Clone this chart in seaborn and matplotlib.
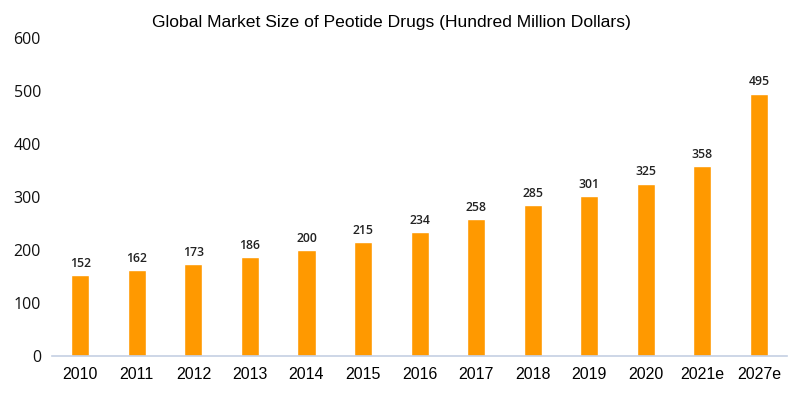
import matplotlib
matplotlib.use("Agg")
import matplotlib.pyplot as plt
import seaborn as sns
import pandas as pd

years = ["2010", "2011", "2012", "2013", "2014", "2015", "2016",
         "2017", "2018", "2019", "2020", "2021e", "2027e"]
market_size = [152, 162, 173, 186, 200, 215, 234, 258, 285, 301, 325, 358, 495]
y_ticks = [0, 100, 200, 300, 400, 500, 600]

sns.set_style("white")

df = pd.DataFrame({"year": years, "size": market_size})

fig = plt.figure(figsize=(8, 3.98), dpi=100)
ax = fig.add_axes([0.065, 0.1055, 0.919, 0.799])

sns.barplot(data=df, x="year", y="size", color="#FF9900", saturation=1,
            width=0.32, ax=ax)

# value labels above bars
for i, v in enumerate(market_size):
    ax.text(i, v + 10, str(v), ha="center", va="bottom", fontsize=8.8,
            fontweight="semibold", color="#222222", family="Open Sans")

ax.set_xlim(-0.5, len(years) - 0.5)
ax.set_ylim(0, 600)
ax.set_yticks(y_ticks)
ax.set_yticklabels([str(t) for t in y_ticks], fontsize=11.5, family="Open Sans",
                   color="#111111")
ax.tick_params(axis="y", length=0, pad=8)
ax.tick_params(axis="x", length=0, pad=8)
for lbl in ax.get_xticklabels():
    lbl.set_fontsize(11.5)
    lbl.set_family("Liberation Sans")
    lbl.set_color("#000000")
ax.set_xlabel("")
ax.set_ylabel("")

for s in ["top", "right", "left"]:
    ax.spines[s].set_visible(False)
ax.spines["bottom"].set_color("#c5d0e3")
ax.spines["bottom"].set_linewidth(1.2)

fig.text(0.49, 0.943, "Global Market Size of Peotide Drugs (Hundred Million Dollars)",
         ha="center", va="center", fontsize=12.6, family="Liberation Sans",
         color="#000000")

fig.savefig("out.png", dpi=100)
